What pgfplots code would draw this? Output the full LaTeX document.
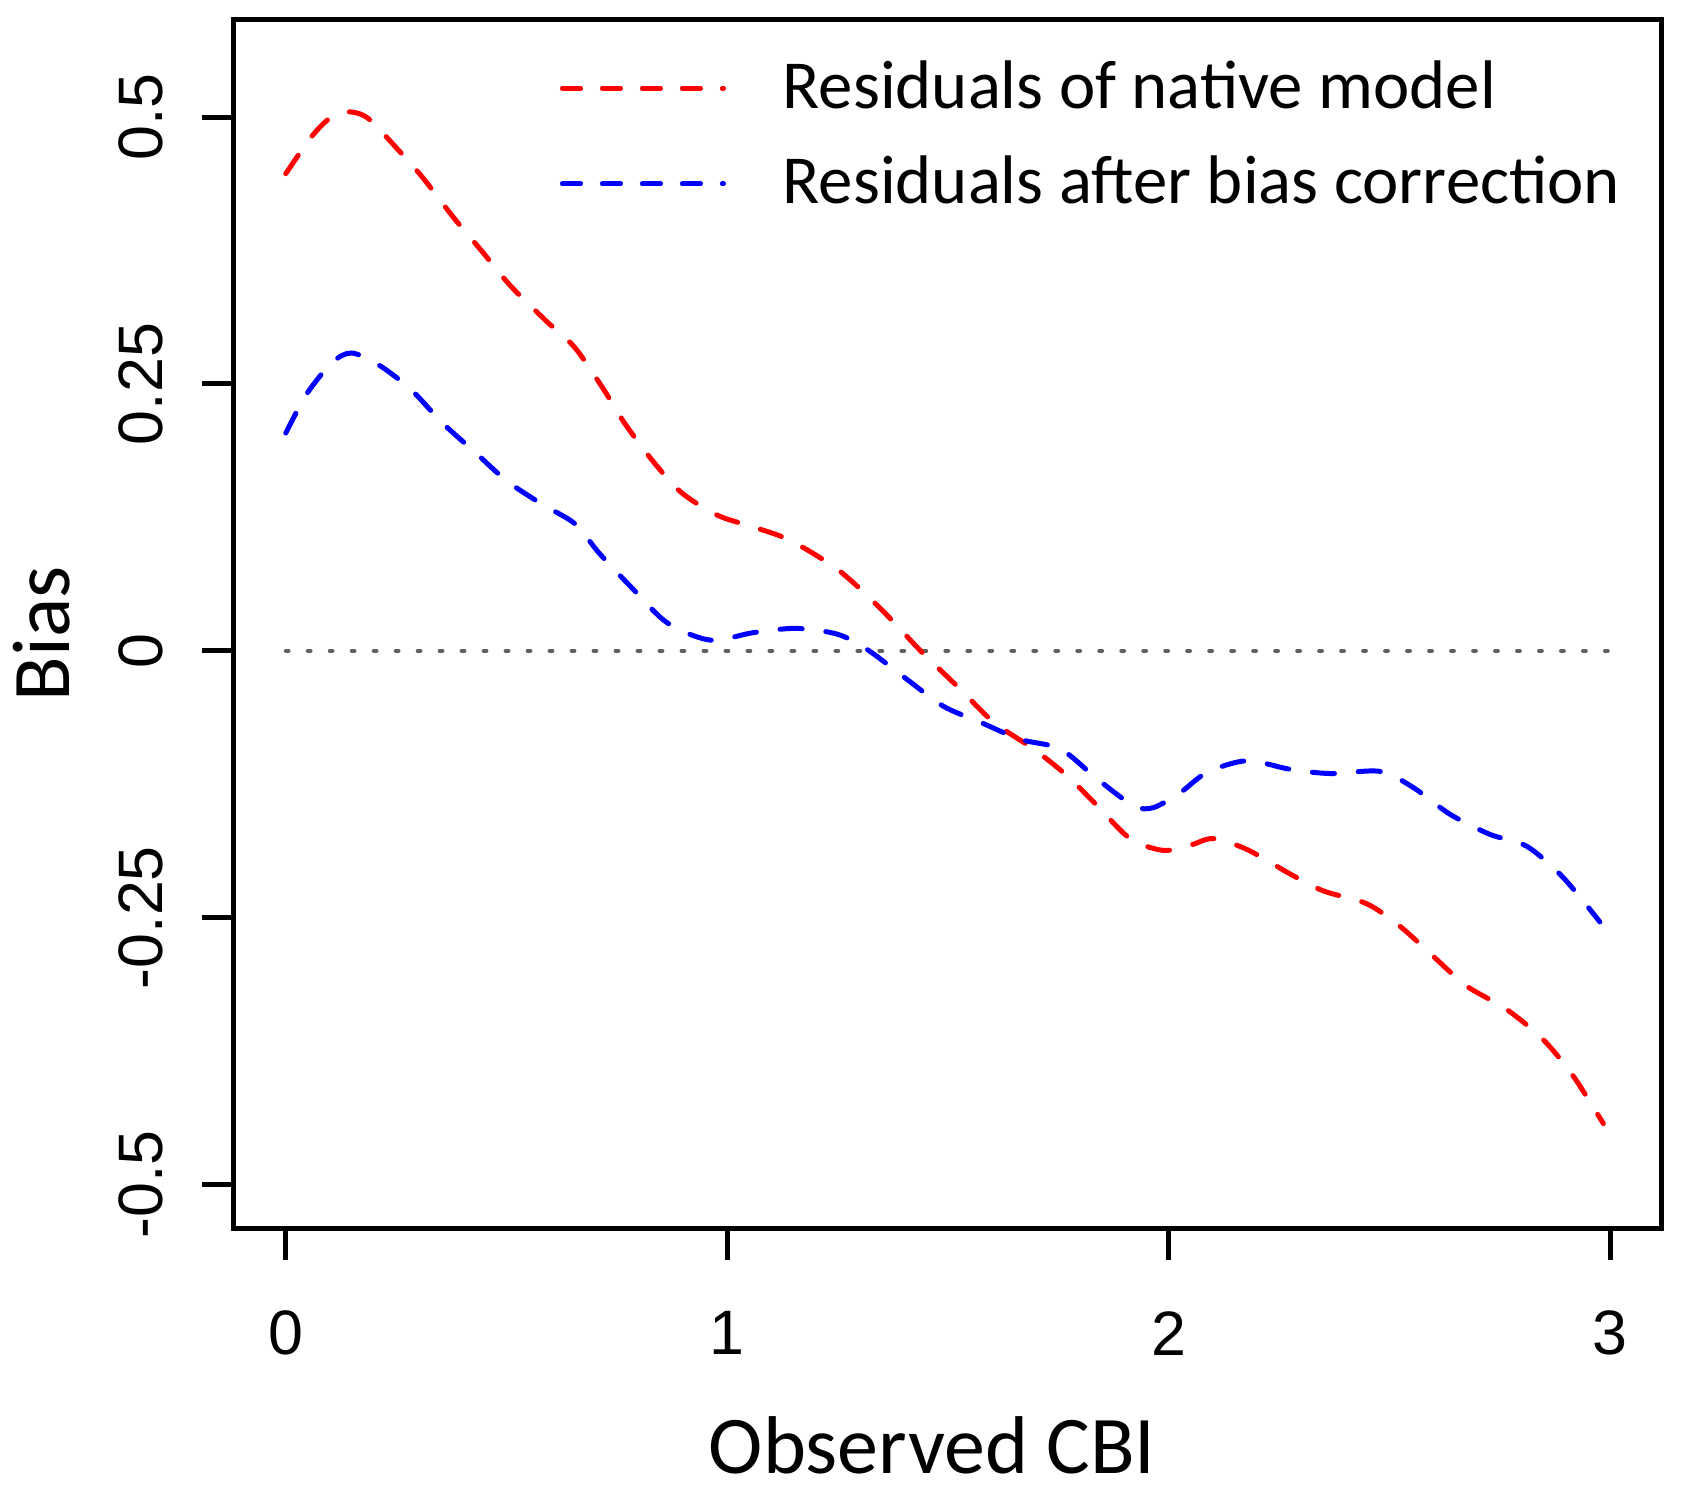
\documentclass[border=0pt]{standalone}
\usepackage{fontspec}
\setmainfont{Carlito}
\newfontfamily\ticklabelfont{Liberation Sans}
\usepackage{pgfplots}
\pgfplotsset{compat=1.18}

\definecolor{zerogray}{RGB}{96,96,96}

\begin{document}
\begin{tikzpicture}
\begin{axis}[
    scale only axis,
    width=357.2pt, height=302.25pt,
    xmin=-0.118, xmax=3.117,
    ymin=-0.541, ymax=0.591,
    axis line style={line width=1.25pt},
    every tick/.style={black, line width=1.25pt},
    tick align=outside,
    major tick length=8pt,
    xtick pos=bottom, ytick pos=left,
    xtick={0,1,2,3},
    xticklabels={0,1,2,3},
    ytick={-0.5,-0.25,0,0.25,0.5},
    yticklabels={-0.5,-0.25,0,0.25,0.5},
    xticklabel style={font=\fontsize{15.7}{18}\selectfont\ticklabelfont, anchor=center, inner sep=0pt},
    yticklabel style={font=\fontsize{15.7}{18}\selectfont\ticklabelfont, rotate=90, anchor=center, inner sep=0pt},
    xticklabel shift=18.25pt,
    yticklabel shift=15.25pt,
    xlabel={Observed CBI},
    ylabel={Bias},
    every axis x label/.style={at={(rel axis cs:0.5,0)}, xshift=-3.85pt, yshift=-54.25pt, anchor=center,
        font=\fontsize{20.5}{24}\selectfont},
    every axis y label/.style={at={(rel axis cs:0,0.5)}, xshift=-48pt, yshift=-2.4pt, rotate=90, anchor=center,
        font=\fontsize{20.5}{24}\selectfont},
    legend style={
        at={(rel axis cs:0,1)}, anchor=north west, xshift=81.6pt, yshift=-9.6pt,
        draw=none, fill=none, inner sep=0pt, outer sep=0pt,
        font=\fontsize{17.2}{20}\selectfont,
        row sep=7.4pt,
        nodes={inner sep=0pt, text height=12.5pt, text depth=4pt},
        /tikz/every odd column/.append style={column sep=14.2pt},
    },
    legend cell align=left,
    legend image code/.code={\draw[#1, dash pattern=on 4.55pt off 5.45pt] (0pt,0.75pt) -- (40.3pt,0.75pt);},
    clip=true,
]

% zero reference line
\addplot[forget plot, zerogray, line width=1pt, line cap=round, dash pattern=on 0.7pt off 4.8pt]
    coordinates {(0,0) (3,0)};

\addplot[red, line width=1.25pt, line cap=round, dash pattern=on 5.55pt off 5.95pt, smooth, tension=0.5]
    coordinates {
    (0,0.447)(0.057,0.481)(0.1,0.499)(0.141,0.505)(0.186,0.499)(0.251,0.471)
    (0.307,0.445)(0.38,0.406)(0.445,0.374)(0.509,0.342)(0.59,0.309)(0.655,0.284)
    (0.72,0.245)(0.768,0.213)(0.833,0.177)(0.897,0.148)(0.978,0.127)(1.059,0.116)
    (1.14,0.104)(1.241,0.079)(1.309,0.055)(1.377,0.027)(1.438,0)(1.528,-0.036)
    (1.604,-0.067)(1.694,-0.092)(1.77,-0.117)(1.838,-0.145)(1.913,-0.176)(1.988,-0.187)
    (2.05,-0.182)(2.101,-0.176)(2.177,-0.186)(2.275,-0.209)(2.351,-0.225)(2.449,-0.237)
    (2.524,-0.258)(2.599,-0.286)(2.675,-0.314)(2.766,-0.336)(2.848,-0.364)(2.916,-0.398)
    (2.985,-0.443)
    };
\addlegendentry{Residuals of native model}

\addplot[blue, line width=1.25pt, line cap=round, dash pattern=on 5.55pt off 5.95pt, smooth, tension=0.5]
    coordinates {
    (0,0.204)(0.048,0.241)(0.105,0.27)(0.149,0.279)(0.21,0.268)(0.283,0.245)
    (0.356,0.213)(0.429,0.186)(0.501,0.159)(0.582,0.137)(0.655,0.119)(0.711,0.091)
    (0.784,0.059)(0.865,0.026)(0.962,0.010)(1.059,0.017)(1.156,0.021)(1.25,0.0155)
    (1.318,0.001)(1.408,-0.027)(1.49,-0.052)(1.574,-0.067)(1.664,-0.083)(1.755,-0.092)
    (1.838,-0.12)(1.92,-0.145)(1.965,-0.147)(2.026,-0.133)(2.087,-0.114)(2.177,-0.103)
    (2.275,-0.111)(2.366,-0.115)(2.479,-0.113)(2.554,-0.128)(2.637,-0.153)(2.728,-0.172)
    (2.811,-0.183)(2.893,-0.212)(2.977,-0.254)
    };
\addlegendentry{Residuals after bias correction}

\end{axis}
\path ([shift={(-58.25pt,-66.5pt)}]current axis.south west)
    rectangle ([shift={(6.1pt,5pt)}]current axis.north east);
\end{tikzpicture}
\end{document}
